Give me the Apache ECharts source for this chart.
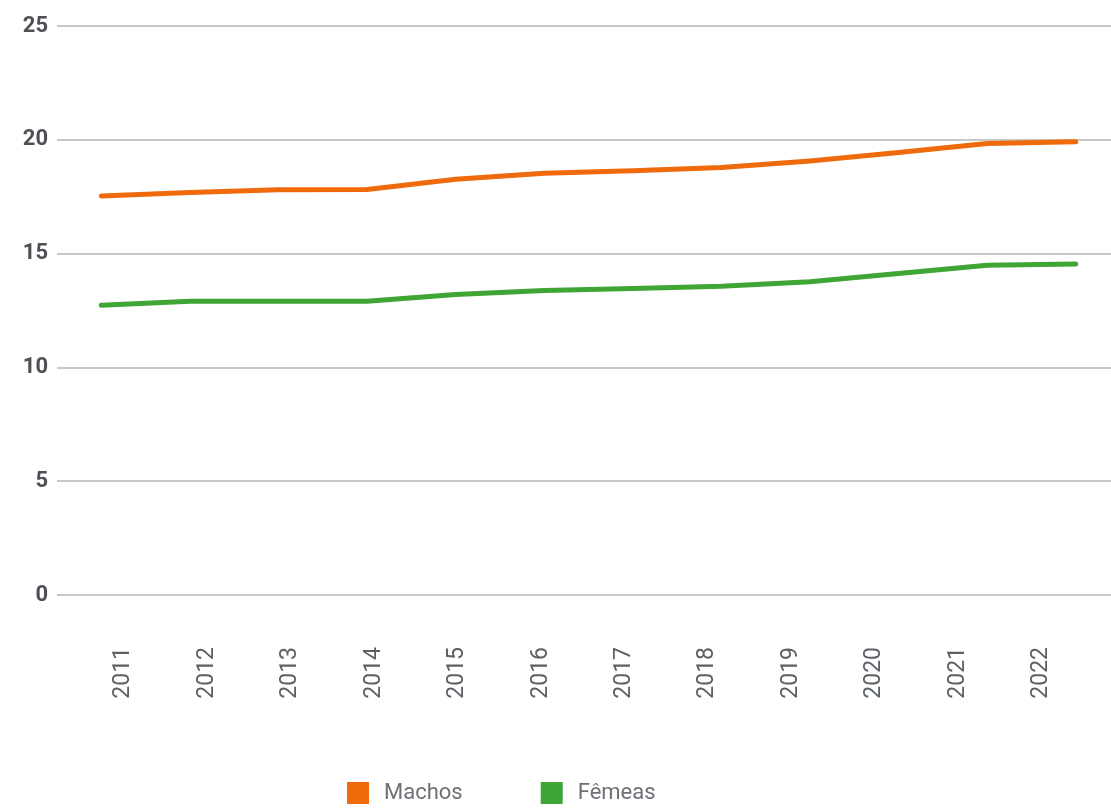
<!DOCTYPE html>
<html>
<head>
<meta charset="utf-8">
<script src="https://cdn.jsdelivr.net/npm/echarts@6/dist/echarts.min.js"></script>
<style>
  html, body { margin: 0; padding: 0; background: #fff; }
  #chart { width: 1111px; height: 811px; }
</style>
</head>
<body>
<div id="chart"></div>
<script>
// dados
var anos = ["2011", "2012", "2013", "2014", "2015", "2016", "2017", "2018", "2019", "2020", "2021", "2022"];
var machos = [17.53, 17.68, 17.8, 17.82, 18.27, 18.53, 18.64, 18.78, 19.07, 19.44, 19.84, 19.91];
var femeas = [12.73, 12.91, 12.91, 12.91, 13.2, 13.38, 13.47, 13.57, 13.76, 14.13, 14.49, 14.54];
var yTicks = [0, 5, 10, 15, 20, 25];

var fonte = "'Roboto', sans-serif";

var myChart = echarts.init(document.getElementById("chart"));
var option = {
  animation: false,
  color: ["#ee6a0b", "#3fa535"],
  legend: {
    top: 777,
    left: 342,
    itemWidth: 22,
    itemHeight: 22,
    itemGap: 78,
    icon: "rect",
    textStyle: { color: "#6d7176", fontSize: 22, fontFamily: fonte, padding: [0, 0, 0, 10] },
    data: ["Machos", "Fêmeas"]
  },
  grid: [
    // linhas
    { left: 57, top: 26, width: 1063, height: 569, outerBoundsMode: "none" },
    // rótulos do eixo x
    { left: 82, top: 26, width: 1001, height: 569, outerBoundsMode: "none" }
  ],
  xAxis: [
    {
      type: "category",
      gridIndex: 0,
      data: anos,
      boundaryGap: true,
      axisLine: { show: false },
      axisTick: { show: false },
      axisLabel: { show: false }
    },
    {
      type: "category",
      gridIndex: 1,
      data: anos,
      boundaryGap: true,
      axisLine: { show: false },
      axisTick: { show: false },
      axisLabel: {
        rotate: 90,
        margin: 52,
        color: "#5c6166",
        fontSize: 23,
        fontFamily: fonte
      }
    }
  ],
  yAxis: [
    {
      type: "value",
      gridIndex: 0,
      min: yTicks[0],
      max: yTicks[yTicks.length - 1],
      interval: 5,
      axisLine: { show: false },
      axisTick: { show: false },
      axisLabel: {
        margin: 9,
        color: "#4d5157",
        fontSize: 22,
        fontWeight: "bold",
        fontFamily: fonte
      },
      splitLine: { lineStyle: { color: "#c8c8c8", width: 2 } }
    },
    {
      type: "value",
      gridIndex: 1,
      min: 0,
      max: 25,
      show: false
    }
  ],
  series: [
    {
      name: "Machos",
      type: "line",
      xAxisIndex: 0,
      yAxisIndex: 0,
      data: machos,
      symbol: "none",
      lineStyle: { width: 5, cap: "round", join: "round" }
    },
    {
      name: "Fêmeas",
      type: "line",
      xAxisIndex: 0,
      yAxisIndex: 0,
      data: femeas,
      symbol: "none",
      lineStyle: { width: 5, cap: "round", join: "round" }
    }
  ]
};
myChart.setOption(option);
</script>
</body>
</html>
